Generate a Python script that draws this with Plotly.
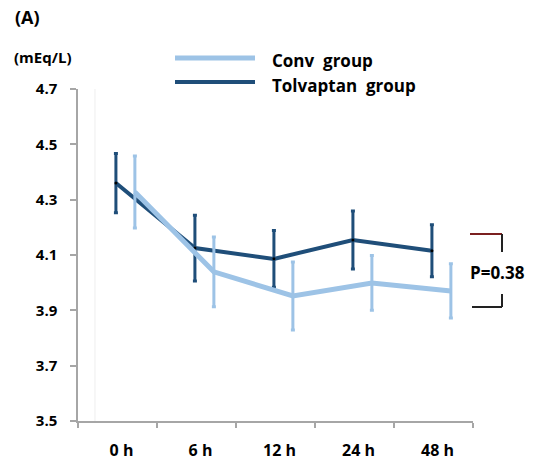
import plotly.graph_objects as go

categories = ["0 h", "6 h", "12 h", "24 h", "48 h"]
tolvaptan_mean = [4.36, 4.125, 4.086, 4.154, 4.115]
tolvaptan_err = [0.107, 0.119, 0.103, 0.105, 0.094]
conv_mean = [4.328, 4.039, 3.952, 3.999, 3.970]
conv_err = [0.130, 0.126, 0.123, 0.099, 0.098]
y_ticks = [3.5, 3.7, 3.9, 4.1, 4.3, 4.5, 4.7]
p_text = "P=0.38"

CONV_COLOR = "#9dc3e6"
TOLV_COLOR = "#1f4e79"
FONT = "'Open Sans', sans-serif"

idx = list(range(len(categories)))
tolv_x = [i - 0.02 for i in idx]
conv_x = [i + 0.22 for i in idx]

fig = go.Figure()
fig.add_trace(go.Scatter(
    x=tolv_x, y=tolvaptan_mean, mode="lines+markers", name="Tolvaptan group",
    line=dict(color=TOLV_COLOR, width=4),
    marker=dict(color="black", size=3),
    error_y=dict(type="data", array=tolvaptan_err, color=TOLV_COLOR, thickness=3, width=2),
))
fig.add_trace(go.Scatter(
    x=conv_x, y=conv_mean, mode="lines", name="Conv group",
    line=dict(color=CONV_COLOR, width=5),
    error_y=dict(type="data", array=conv_err, color=CONV_COLOR, thickness=3, width=2),
))

def px(x):
    return (x - 78) / 395

def py(y):
    return (421 - y) / 332

shapes = [
    dict(type="line", xref="x", yref="paper", x0=-0.285, x1=-0.285, y0=0, y1=1,
         line=dict(color="#eeeeee", width=1), layer="below"),
    dict(type="line", xref="paper", yref="paper", x0=px(175), x1=px(255),
         y0=py(58), y1=py(58), line=dict(color=CONV_COLOR, width=5)),
    dict(type="line", xref="paper", yref="paper", x0=px(175), x1=px(255),
         y0=py(82), y1=py(82), line=dict(color=TOLV_COLOR, width=4)),
    dict(type="line", xref="paper", yref="paper", x0=px(470), x1=px(502),
         y0=py(234), y1=py(234), line=dict(color="#7b2020", width=2)),
    dict(type="line", xref="paper", yref="paper", x0=px(502), x1=px(502),
         y0=py(234), y1=py(252), line=dict(color="#222222", width=2)),
    dict(type="line", xref="paper", yref="paper", x0=px(502), x1=px(502),
         y0=py(294), y1=py(307), line=dict(color="#222222", width=2)),
    dict(type="line", xref="paper", yref="paper", x0=px(472), x1=px(502),
         y0=py(307), y1=py(307), line=dict(color="#222222", width=2)),
]

annotations = [
    dict(text="<b>(A)</b>", xref="paper", yref="paper", x=px(13), y=py(17),
         xanchor="left", yanchor="middle", showarrow=False, font=dict(size=18, color="black", family=FONT)),
    dict(text="<b>(mEq/L)</b>", xref="paper", yref="paper", x=px(12), y=py(57),
         xanchor="left", yanchor="middle", showarrow=False, font=dict(size=15, color="black", family=FONT)),
    dict(text="<b>Conv  group</b>", xref="paper", yref="paper", x=px(270), y=py(60),
         xanchor="left", yanchor="middle", showarrow=False, font=dict(size=17, color="black", family=FONT)),
    dict(text="<b>Tolvaptan  group</b>", xref="paper", yref="paper", x=px(270), y=py(85),
         xanchor="left", yanchor="middle", showarrow=False, font=dict(size=17, color="black", family=FONT)),
    dict(text="<b>" + p_text + "</b>", xref="paper", yref="paper", x=px(497), y=py(272),
         xanchor="center", yanchor="middle", showarrow=False, font=dict(size=17, color="black", family=FONT)),
]

fig.update_layout(
    width=537, height=465,
    margin=dict(l=78, r=64, t=89, b=44, autoexpand=False),
    plot_bgcolor="white", paper_bgcolor="white",
    showlegend=False,
    shapes=shapes, annotations=annotations,
    font=dict(family=FONT, color="black"),
)
fig.update_xaxes(
    range=[-0.5, 4.5], tickvals=idx, ticktext=["<b>%s</b>" % c for c in categories],
    ticks="", showgrid=False, zeroline=False, automargin=False,
    showline=True, linecolor="#a6a6a6", linewidth=1.5,
    tickfont=dict(size=16, color="black", family=FONT), ticklabelstandoff=14, ticklabelshift=4,
    minor=dict(tickvals=[i - 0.5 for i in range(len(categories) + 1)], ticks="outside",
               ticklen=5, tickcolor="#a6a6a6", tickwidth=1.5, showgrid=False),
)
fig.update_yaxes(
    range=[3.5, 4.7], tickvals=y_ticks, ticktext=["<b>%.1f</b>" % v for v in y_ticks],
    ticks="outside", ticklen=6, tickcolor="#a6a6a6", tickwidth=1.5,
    showgrid=False, zeroline=False, automargin=False,
    showline=True, linecolor="#a6a6a6", linewidth=1.5,
    tickfont=dict(size=15, color="black", family=FONT), ticklabelstandoff=10,
)

fig.write_html("out.html", config={"displayModeBar": False},
               post_script="document.body.style.margin='0';document.body.style.padding='0';")
